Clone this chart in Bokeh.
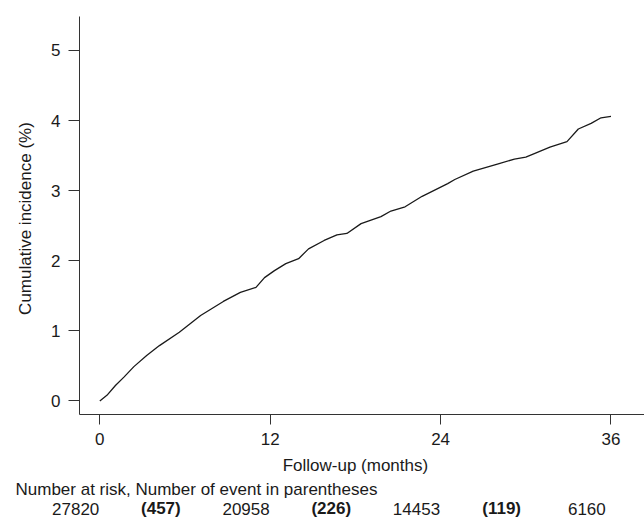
import math
from bokeh.plotting import figure
from bokeh.layouts import column, row
from bokeh.models import Range1d, FixedTicker
from bokeh.core.properties import value
from bokeh.embed import file_html
from bokeh.resources import INLINE

# ---- data ----
months = [0.0, 0.5, 1.1, 1.7, 2.4, 3.3, 4.2, 5.6, 7.1, 8.7, 9.9, 11.0, 11.6,
          12.3, 13.1, 14.0, 14.7, 15.8, 16.7, 17.4, 18.4, 19.8, 20.5, 21.5,
          22.7, 24.5, 25.0, 26.3, 28.0, 29.2, 30.0, 30.6, 31.7, 32.9, 33.7,
          34.6, 35.3, 36.0]
incidence = [0.00, 0.08, 0.22, 0.34, 0.49, 0.65, 0.79, 0.98, 1.22, 1.42, 1.55,
             1.62, 1.76, 1.86, 1.96, 2.03, 2.17, 2.29, 2.37, 2.39, 2.53, 2.63,
             2.71, 2.77, 2.92, 3.10, 3.16, 3.28, 3.38, 3.45, 3.48, 3.53, 3.62,
             3.70, 3.88, 3.96, 4.04, 4.06]
x_ticks = [0, 12, 24, 36]
y_ticks = [0, 1, 2, 3, 4, 5]
risk_times = [0, 12, 24, 36]
at_risk = [27820, 20958, 14453, 6160]
event_times = [0, 12, 24]
events = [457, 226, 119]

FONT = "Liberation Sans"
FS = "17px"
TXT = "#1a1a1a"
AX = "#333333"

X0, X1 = -1.43, 38.36
Y0, Y1 = -0.193, 5.485

W, H = 644, 519
LEFT_W = 40
TOP_H = 452
FRAME_L, FRAME_T, FRAME_B = 79, 16, 414

def bare(width, height, xr, yr):
    f = figure(width=width, height=height, output_backend="svg",
               toolbar_location=None, x_range=xr, y_range=yr,
               min_border_left=0, min_border_right=0, min_border_top=0,
               min_border_bottom=0)
    f.axis.visible = False
    f.grid.visible = False
    f.outline_line_color = None
    f.background_fill_color = "white"
    f.border_fill_color = "white"
    return f

# ---- main plot ----
p = figure(width=W - LEFT_W, height=TOP_H, output_backend="svg",
           toolbar_location=None,
           x_range=Range1d(X0, X1), y_range=Range1d(Y0, Y1),
           min_border_left=FRAME_L - LEFT_W, min_border_right=0,
           min_border_top=FRAME_T, min_border_bottom=TOP_H - FRAME_B)
p.outline_line_color = None
p.grid.visible = False
p.background_fill_color = "white"
p.border_fill_color = "white"
for ax in (p.xaxis[0], p.yaxis[0]):
    ax.axis_line_color = AX
    ax.axis_line_width = 1
    ax.major_tick_line_color = AX
    ax.minor_tick_line_color = None
    ax.major_tick_in = 0
    ax.major_label_text_font = FONT
    ax.major_label_text_font_size = FS
    ax.major_label_text_color = TXT
p.xaxis.ticker = FixedTicker(ticks=x_ticks)
p.yaxis.ticker = FixedTicker(ticks=y_ticks)
p.xaxis.major_tick_out = 10
p.yaxis.major_tick_out = 11
p.xaxis.major_label_standoff = 8
p.yaxis.major_label_standoff = 8

p.line(months, incidence, line_color="#1a1a1a", line_width=1.3)

# ---- y-axis title panel (same vertical scale as the main plot) ----
ppu = (FRAME_B - FRAME_T) / (Y1 - Y0)
y_zero = FRAME_B + Y0 * ppu
left = bare(LEFT_W, TOP_H, Range1d(0, LEFT_W),
            Range1d(-(TOP_H - y_zero) / ppu, y_zero / ppu))
left.text(x=[25], y=[2.44], text=["Cumulative incidence (%)"], angle=math.pi / 2,
          text_font=value(FONT), text_font_size=FS, text_color=TXT,
          text_align="center", text_baseline="middle")

# ---- bottom panel: axis title + number-at-risk table (same x scale) ----
ppm = (W - FRAME_L) / (X1 - X0)
BOT_H = H - TOP_H
bot = bare(W, BOT_H, Range1d(X0 - FRAME_L / ppm, X1), Range1d(0, BOT_H))
def btxt(x, y, t, align="center", bold=False):
    bot.text(x=[x], y=[y], text=[t], text_font=value(FONT), text_font_size=FS,
             text_color=TXT, text_align=align, text_baseline="middle",
             text_font_style="bold" if bold else "normal")
btxt(18, 54, "Follow-up (months)")
btxt(X0 - (FRAME_L - 15) / ppm, 30, "Number at risk, Number of event in parentheses",
     align="left")
for t, n in zip(risk_times, at_risk):
    btxt(t - 1.7, 11, str(n))
for t, e in zip(event_times, events):
    btxt(t + 4.3, 11, "(%d)" % e, bold=True)

layout = column(row(left, p), bot)
open("out.html", "w").write(file_html(layout, INLINE))
